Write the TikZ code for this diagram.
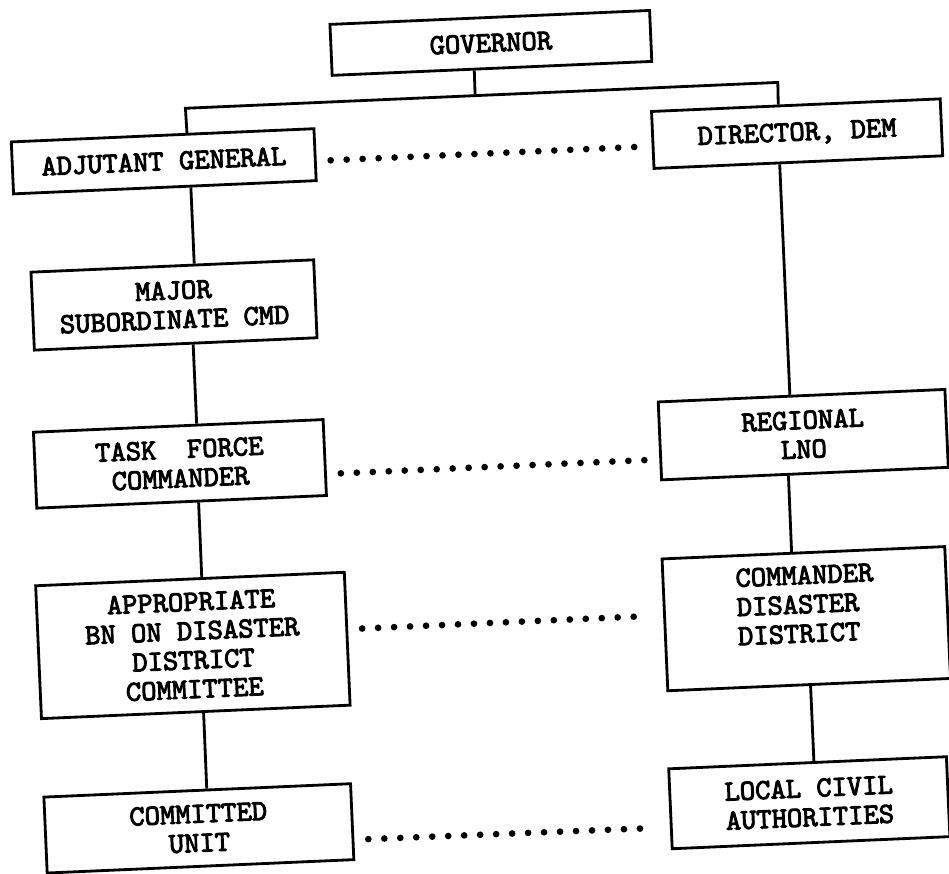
\documentclass[tikz,border=0pt]{standalone}
\usepackage{fontspec}
\newfontfamily\boxfont{lmmono10-regular.otf}[RawFeature={embolden=3.2}]
\usetikzlibrary{calc}
\tikzset{
  box/.style={draw, line width=1.6pt, inner sep=0pt, align=center,
    font=\boxfont\fontsize{16.6}{16.6}\selectfont},
  link/.style={line width=1.6pt},
  dots/.style={line width=3.8pt, line cap=round, dash pattern=on 0pt off 9.1pt,
    shorten <=0.28cm, shorten >=0.28cm}
}
\begin{document}
\begin{tikzpicture}[x=0.02cm,y=-0.02cm]
    \useasboundingbox (0,0) rectangle (949,873);
    % the scanned sheet sits slightly tilted
    \begin{scope}[rotate around={2.5:(474,436)}, transform shape]
    % top
    \node[box, minimum width=6.40cm, minimum height=1.02cm] (gov) at (508,44) {GOVERNOR};
    
    % military side
    \node[box, minimum width=6.06cm, minimum height=1.04cm] (adj) at (176,148) {ADJUTANT GENERAL};
    \node[box, minimum width=5.66cm, minimum height=1.56cm] (maj) at (180,292) {MAJOR\\SUBORDINATE CMD};
    \node[box, minimum width=5.80cm, minimum height=1.52cm] (task) at (179,451) {TASK\ \ FORCE\\COMMANDER};
    \node[box, minimum width=6.18cm, minimum height=2.66cm] (app) at (184,633) {APPROPRIATE\\BN ON DISASTER\\DISTRICT\\COMMITTEE};
    \node[box, minimum width=6.14cm, minimum height=1.52cm] (com) at (182,816) {COMMITTED\\UNIT};
    
    % civil side
    \node[box, minimum width=5.78cm, minimum height=1.14cm] (dir) at (810,148) {DIRECTOR, DEM};
    \node[box, minimum width=5.74cm, minimum height=1.56cm] (reg) at (803,449) {REGIONAL\\LNO};
    \node[box, minimum width=5.66cm, minimum height=2.64cm, align=left] (cmd) at (798,633) {COMMANDER\\DISASTER\\DISTRICT\\\mbox{}};
    \node[box, minimum width=5.56cm, minimum height=1.60cm] (loc) at (793,817) {LOCAL CIVIL\\AUTHORITIES};
    
    % branch under the governor
    \coordinate (busL) at (200,96);
    \coordinate (busM) at (490,96);
    \coordinate (busR) at (793,96);
    \draw[link] ($(adj.north west)!0.58!(adj.north east)$) -- (busL) -- (busR) -- ($(dir.north west)!0.44!(dir.north east)$);
    \draw[link] ($(gov.south west)!0.445!(gov.south east)$) -- (busM);
    
    % chains of command
    \foreach \a/\fa/\b/\fb in {adj/0.585/maj/0.577, maj/0.561/task/0.563, task/0.558/app/0.538, app/0.525/com/0.531,
      dir/0.436/reg/0.46, reg/0.443/cmd/0.459, cmd/0.505/loc/0.523}
    \draw[link] ($(\a.south west)!\fa!(\a.south east)$) -- ($(\b.north west)!\fb!(\b.north east)$);
    
    % coordination
    \foreach \a/\fa/\b/\fb in {adj/0.615/dir/0.605, task/0.71/reg/0.73, app/0.43/cmd/0.43, com/0.73/loc/0.725}
    \draw[dots] ($(\a.north east)!\fa!(\a.south east)$) -- ($(\b.north west)!\fb!(\b.south west)$);
    \end{scope}
\end{tikzpicture}
\end{document}
